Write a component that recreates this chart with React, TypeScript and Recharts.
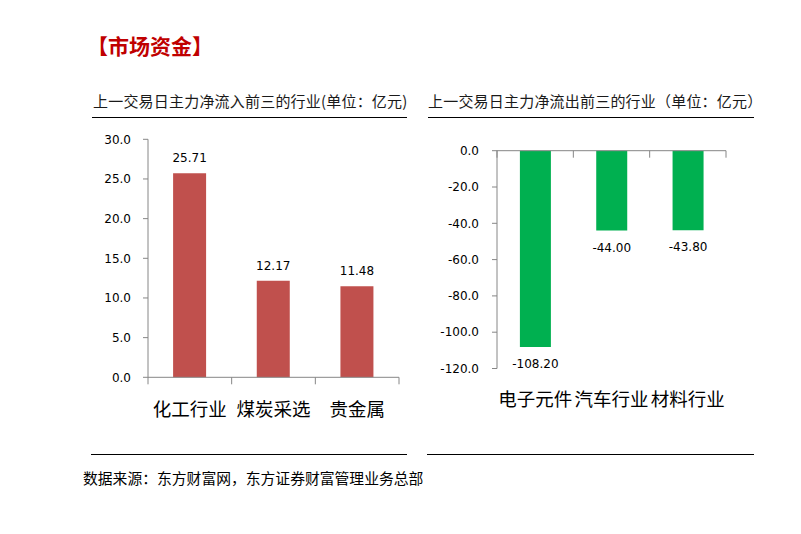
import React from 'react';
import { BarChart, Bar, XAxis, YAxis } from 'recharts';

// 净流入前三
const inflowNames = ['化工行业', '煤炭采选', '贵金属'];
const inflowValues = [25.71, 12.17, 11.48];
const inflowTicks = [0, 5, 10, 15, 20, 25, 30];

// 净流出前三
const outflowNames = ['电子元件', '汽车行业', '材料行业'];
const outflowValues = [-108.2, -44.0, -43.8];
const outflowTicks = [-120, -100, -80, -60, -40, -20, 0];

const CJK = '"Noto Sans CJK SC", "Noto Sans", sans-serif';
const NUM = '"DejaVu Sans", Verdana, sans-serif';
const AXIS = '#868686';

const inflowData = inflowNames.map((name, i) => ({ name, value: inflowValues[i] }));
const outflowData = outflowNames.map((name, i) => ({ name, value: outflowValues[i] }));

// tick marks sit on band edges (Excel style), labels sit in band centres
const makeTick = (bandWidth: number, count: number, withLine: boolean, labelOffset: number) =>
  (props: any) => {
    const { x, y, payload, index } = props;
    return (
      <g>
        {withLine && (
          <line x1={x - bandWidth / 2} y1={y} x2={x - bandWidth / 2} y2={y + 7} stroke={AXIS} />
        )}
        {withLine && index === count - 1 && (
          <line x1={x + bandWidth / 2} y1={y} x2={x + bandWidth / 2} y2={y + 7} stroke={AXIS} />
        )}
        {labelOffset > 0 && (
          <text
            x={x}
            y={y + labelOffset}
            textAnchor="middle"
            dominantBaseline="central"
            fontFamily={CJK}
            fontSize={18.5}
            fill="#000"
          >
            {payload.value}
          </text>
        )}
      </g>
    );
  };

const topLabel = (props: any) => {
  const { x, y, width, height, value } = props;
  const top = Math.min(y, y + height);
  return (
    <text x={x + width / 2} y={top - 15} textAnchor="middle" dominantBaseline="central"
      fontFamily={NUM} fontSize={12} fill="#000">
      {Number(value).toFixed(2)}
    </text>
  );
};

const bottomLabel = (props: any) => {
  const { x, y, width, height, value } = props;
  const bottom = Math.max(y, y + height);
  return (
    <text x={x + width / 2} y={bottom + 17} textAnchor="middle" dominantBaseline="central"
      fontFamily={NUM} fontSize={12} fill="#000">
      {Number(value).toFixed(2)}
    </text>
  );
};

const yTickStyle = { fontFamily: NUM, fontSize: 12, fill: '#000' };

export default function App() {
  // plot box widths, used only for tick placement on band edges
  const leftBand = (399 - 148) / inflowNames.length;
  const rightBand = (306 - 77) / outflowNames.length;

  return (
    <div style={{ position: 'absolute', left: 0, top: 0, width: 801, height: 534, background: '#fff', overflow: 'hidden' }}>
      <div style={{ position: 'absolute', left: 87, top: 31, fontFamily: CJK, fontSize: 21, fontWeight: 'bold', color: '#C00000', lineHeight: '28px', whiteSpace: 'nowrap' }}>
        【市场资金】
      </div>

      <div style={{ position: 'absolute', left: 93, top: 91, fontFamily: CJK, fontSize: 15, letterSpacing: 0.2, color: '#1a1a1a', lineHeight: '20px', whiteSpace: 'nowrap' }}>
        上一交易日主力净流入前三的行业(单位：亿元)
      </div>
      <div style={{ position: 'absolute', left: 428, top: 91, fontFamily: CJK, fontSize: 15, letterSpacing: 0.2, color: '#1a1a1a', lineHeight: '20px', whiteSpace: 'nowrap' }}>
        上一交易日主力净流出前三的行业（单位：亿元）
      </div>

      <div style={{ position: 'absolute', left: 92, top: 116.5, width: 315, height: 1.5, background: '#000' }} />
      <div style={{ position: 'absolute', left: 428, top: 116.5, width: 326, height: 1.5, background: '#000' }} />
      <div style={{ position: 'absolute', left: 91, top: 453.5, width: 316, height: 1.5, background: '#000' }} />
      <div style={{ position: 'absolute', left: 427, top: 453.5, width: 327, height: 1.5, background: '#000' }} />

      <div style={{ position: 'absolute', left: 0, top: 0 }}>
        <BarChart width={420} height={440} data={inflowData} barCategoryGap="30%"
          margin={{ top: 139.3, right: 21, left: 0, bottom: 12.7 }}>
          <XAxis dataKey="name" height={50} stroke={AXIS} tickLine={false} tickSize={0} tickMargin={0}
            interval={0} tick={makeTick(leftBand, inflowNames.length, true, 31)} />
          <YAxis width={148} domain={[0, 30]} ticks={inflowTicks} stroke={AXIS} tickSize={5} tickMargin={12}
            tick={yTickStyle} tickFormatter={(v: number) => v.toFixed(1)} interval={0} />
          <Bar dataKey="value" fill="#C0504D" isAnimationActive={false} label={topLabel} />
        </BarChart>
      </div>

      <div style={{ position: 'absolute', left: 420, top: 0 }}>
        <BarChart width={340} height={440} data={outflowData} barCategoryGap="30%"
          margin={{ top: 149.7, right: 34, left: 0, bottom: 21.5 }}>
          <XAxis xAxisId="top" orientation="top" dataKey="name" height={1} stroke={AXIS} tickLine={false}
            tickSize={0} tickMargin={0} interval={0} tick={makeTick(rightBand, outflowNames.length, true, 0)} />
          <XAxis xAxisId="bottom" orientation="bottom" dataKey="name" height={50} axisLine={false} tickLine={false}
            tickSize={0} tickMargin={0} interval={0} tick={makeTick(rightBand, outflowNames.length, false, 29.5)} />
          <YAxis width={77} domain={[-120, 0]} ticks={outflowTicks} stroke={AXIS} tickSize={5} tickMargin={13}
            tick={yTickStyle} tickFormatter={(v: number) => v.toFixed(1)} interval={0} />
          <Bar xAxisId="top" dataKey="value" fill="#00B050" isAnimationActive={false} label={bottomLabel} />
        </BarChart>
      </div>

      <div style={{ position: 'absolute', left: 83, top: 468, fontFamily: CJK, fontSize: 14.8, color: '#000', lineHeight: '20px', whiteSpace: 'nowrap' }}>
        数据来源：东方财富网，东方证券财富管理业务总部
      </div>
    </div>
  );
}
